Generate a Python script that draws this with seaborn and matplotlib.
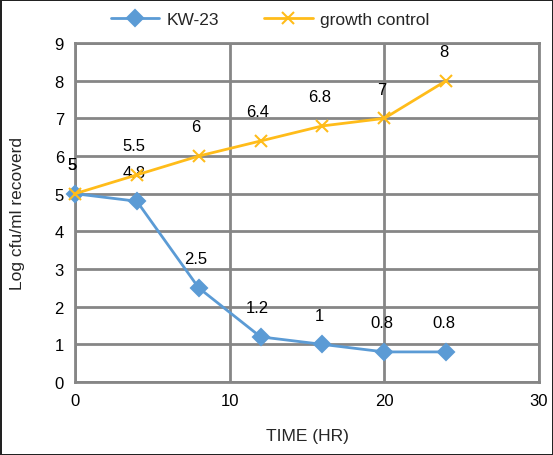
import matplotlib
matplotlib.use("Agg")
import matplotlib.pyplot as plt
import pandas as pd
import seaborn as sns

# data
time_hr = [0, 4, 8, 12, 16, 20, 24]
kw23 = [5, 4.8, 2.5, 1.2, 1, 0.8, 0.8]
growth = [5, 5.5, 6, 6.4, 6.8, 7, 8]
series_names = ["KW-23", "growth control"]
colors = ["#5B9BD5", "#FFBC1A"]
markers = ["D", "x"]

sns.set_theme(style="white")
plt.rcParams["font.family"] = ["Liberation Sans", "DejaVu Sans"]

fig = plt.figure(figsize=(5.53, 4.56), dpi=100, edgecolor="#222222", linewidth=2)
ax = fig.add_axes([0.1356, 0.160, 0.839, 0.7434])

for name, vals, col, mk in zip(series_names, (kw23, growth), colors, markers):
    df = pd.DataFrame({"time": time_hr, "value": vals})
    sns.lineplot(data=df, x="time", y="value", color=col, marker=mk,
                 linewidth=2, markersize=8 if mk == "D" else 9, markeredgewidth=1.5,
                 markeredgecolor=col, label=name, ax=ax, zorder=3, clip_on=False)
    # data labels
    for t, v in zip(time_hr, vals):
        ax.annotate(f"{v:g}", (t, v), xytext=(-2, 21), textcoords="offset points",
                    ha="center", va="center", fontsize=12, color="black")

ax.set_xlim(0, 30)
ax.set_ylim(0, 9)
ax.set_xticks([0, 10, 20, 30])
ax.set_yticks(range(0, 10))
ax.grid(True, color="#868686", linewidth=2)
for sp in ax.spines.values():
    sp.set_color("#868686")
    sp.set_linewidth(2)
ax.tick_params(length=0, labelsize=12, colors="black", pad=8)
ax.set_xlabel("TIME (HR)", fontsize=12.5)
ax.set_ylabel("Log cfu/ml recoverd", fontsize=12.5)
ax.xaxis.set_label_coords(0.5, -0.136)
ax.yaxis.set_label_coords(-0.108, 0.5)

handles, labels = ax.get_legend_handles_labels()
ax.legend(handles, labels, loc="lower center", bbox_to_anchor=(0.42, 1.0),
          ncol=2, frameon=False, fontsize=12.5, handlelength=2.8,
          handletextpad=0.4, columnspacing=2.6)

fig.savefig("out.png", dpi=100)
